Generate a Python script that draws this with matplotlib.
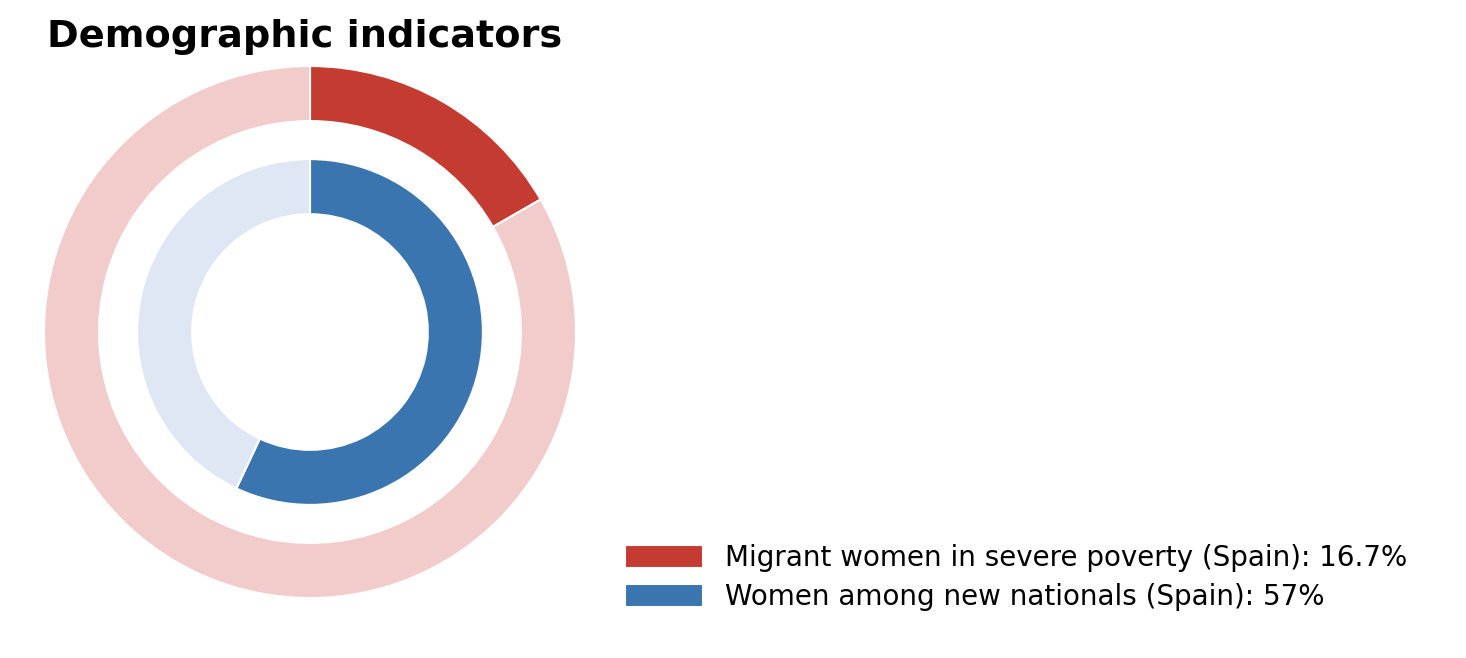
import matplotlib
matplotlib.use("Agg")
import matplotlib.pyplot as plt

labels = ["Migrant women in severe poverty (Spain): 16.7%", "Women among new nationals (Spain): 57%"]
outer_vals = [16.7, 100 - 16.7]
inner_vals = [57, 100 - 57]
outer_colors = ["#C43B32", "#F2CBCB"]
inner_colors = ["#3A75AF", "#DEE7F3"]

fig = plt.figure(figsize=(14.66, 6.58), dpi=100)
ax = fig.add_axes([44/1466, 60/658, 532/1466, 532/658])
w1, _ = ax.pie(outer_vals, radius=1.0, colors=outer_colors, startangle=90, counterclock=False,
               wedgeprops=dict(width=0.207, edgecolor="white", linewidth=1.5))
w2, _ = ax.pie(inner_vals, radius=0.65, colors=inner_colors, startangle=90, counterclock=False,
               wedgeprops=dict(width=0.207, edgecolor="white", linewidth=1.5))
ax.set_xlim(-1, 1)
ax.set_ylim(-1, 1)
ax.set_aspect("equal")
fig.text(47/1466, 1 - 37/658, "Demographic indicators", fontsize=27.5, fontweight="bold", va="center", ha="left")
fig.legend([w1[0], w2[0]], labels, loc="lower left", bbox_to_anchor=(600/1466, 22/658),
           frameon=False, fontsize=20, handlelength=2.8, handleheight=0.9, labelspacing=0.4,
           handletextpad=0.8)
fig.savefig("out.png", dpi=100)
